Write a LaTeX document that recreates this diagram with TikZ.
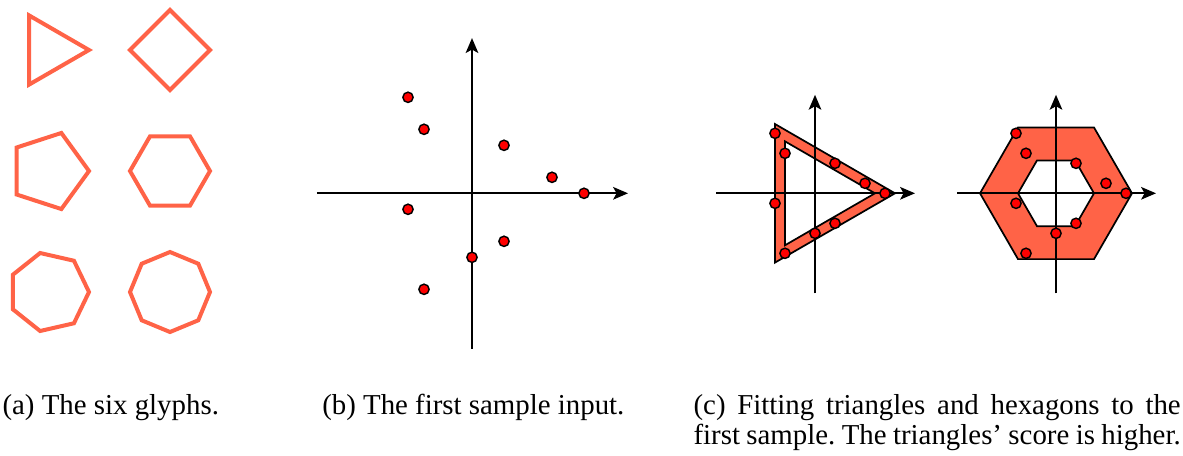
\documentclass[tikz,border=0pt]{standalone}
\usepackage{fontspec}
\setmainfont{Liberation Serif}
\usetikzlibrary{arrows.meta}
\definecolor{glyphred}{RGB}{255, 99, 71}
\newcommand{\samplepoints}{(-4,6), (-3,4), (2,3), (5,1), (7,0), (-4,-1), (2,-3), (0,-4), (-3,-6)}

\begin{document}
\frenchspacing
\begin{tikzpicture}[x=0.35pt, y=-0.35pt,
        glyph/.style={draw=glyphred, line width=1.4pt},
        axis/.style={-{Stealth[length=5.2pt, width=4.4pt, inset=1.2pt]}, line width=0.7pt},
        dot/.style={circle, fill=red, draw=black, line width=0.5pt, minimum size=3.6pt, inner sep=0pt},
        band/.style={fill=glyphred, draw=black, line width=0.6pt, even odd rule},
        caption/.style={anchor=base west, inner sep=0pt, font=\fontsize{10.1}{10.6}\selectfont}
    ]
        \useasboundingbox (0,0) rectangle (1183,455);

        % (a) les six glyphes
        \foreach \n/\cx/\cy in {3/49/50, 4/170/50, 5/49/171, 6/170/171, 7/49/292, 8/170/292} {
            \begin{scope}[shift={(\cx,\cy)}]
                \draw[glyph] (0:40) \foreach \k in {2,...,\n} {-- ({(\k-1)*360/\n}:40)} -- cycle;
            \end{scope}
        }

        % (b) premier echantillon
        \begin{scope}[shift={(472,193.3)}, x=5.6pt, y=5.6pt]
            \coordinate (bxl) at (-9.7,0);
            \coordinate (bxr) at (9.75,0);
            \coordinate (byb) at (0,-9.7);
            \coordinate (byt) at (0,9.7);
            \draw[axis] (bxl) -- (bxr);
            \draw[axis] (byb) -- (byt);
            \foreach \p [count=\i] in \samplepoints
                \node[dot] (b\i) at \p {};
        \end{scope}

        % (c) triangles
        \begin{scope}[shift={(815,193.3)}, x=3.5pt, y=3.5pt]
            \path[band] (0:8) -- (120:8) -- (240:8) -- cycle
                (0:6) -- (120:6) -- (240:6) -- cycle;
            \coordinate (txl) at (-9.9,0);
            \coordinate (txr) at (10,0);
            \coordinate (tyb) at (0,-10);
            \coordinate (tyt) at (0,9.85);
            \draw[axis] (txl) -- (txr);
            \draw[axis] (tyb) -- (tyt);
            \foreach \p [count=\i] in \samplepoints
                \node[dot] (t\i) at \p {};
        \end{scope}

        % (c) hexagones
        \begin{scope}[shift={(1056,193.3)}, x=3.5pt, y=3.5pt]
            \path[band] (0:7.6) \foreach \a in {60,120,...,300} {-- (\a:7.6)} -- cycle
                (0:3.8) \foreach \a in {60,120,...,300} {-- (\a:3.8)} -- cycle;
            \coordinate (hxl) at (-9.9,0);
            \coordinate (hxr) at (10,0);
            \coordinate (hyb) at (0,-10);
            \coordinate (hyt) at (0,9.85);
            \draw[axis] (hxl) -- (hxr);
            \draw[axis] (hyb) -- (hyt);
            \foreach \p [count=\i] in \samplepoints
                \node[dot] (h\i) at \p {};
        \end{scope}

        % Legendes
        \node[caption] (capa) at (2,414) {(a) The six glyphs.};
        \node[caption] (capb) at (321.7,414) {(b) The first sample input.};
        \node[caption, text width=170.5pt, align=justify] (capc) at (693,414)
            {(c) Fitting triangles and hexagons to the first sample. The triangles' score is higher.};
    \end{tikzpicture}
\end{document}
